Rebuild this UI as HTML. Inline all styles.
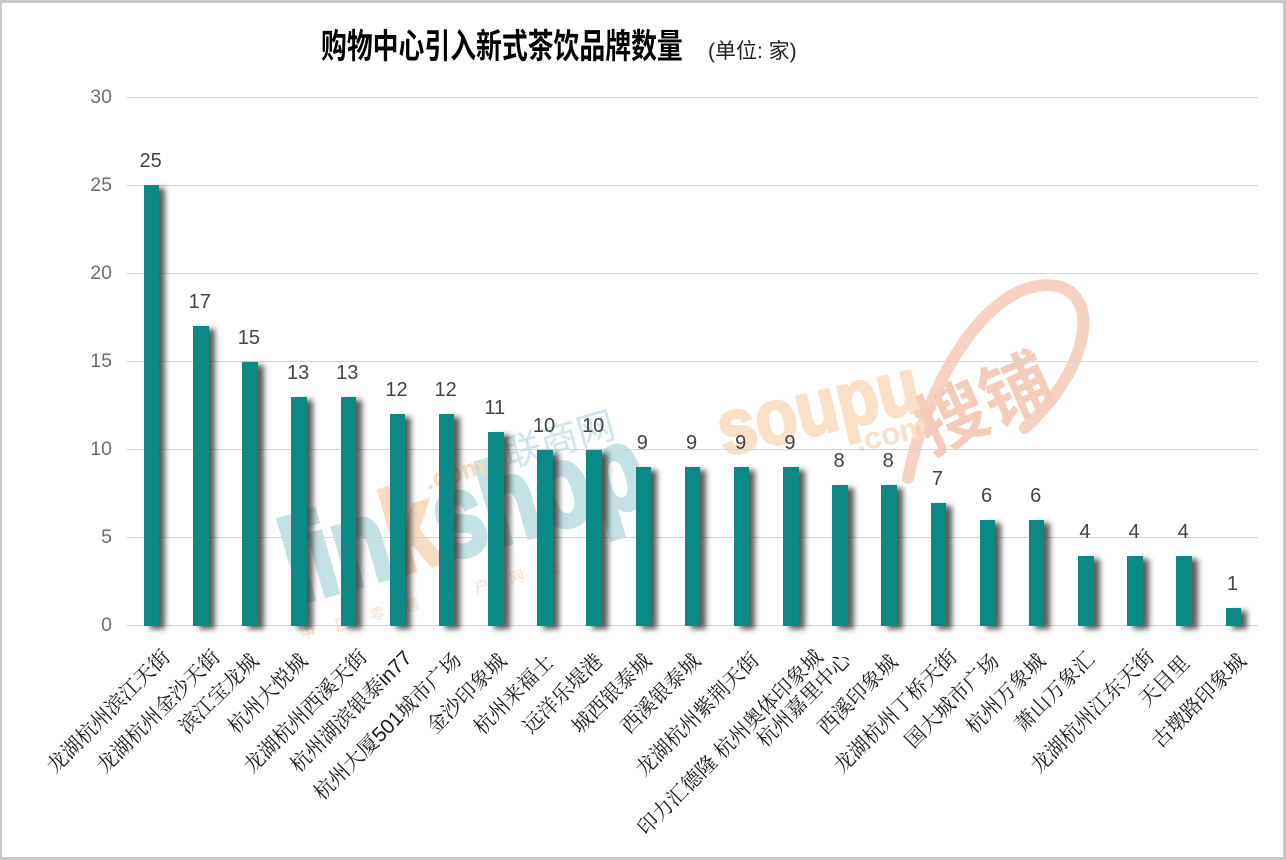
<!DOCTYPE html>
<html>
<head>
<meta charset="utf-8">
<style>
  html,body{margin:0;padding:0;background:#fff;}
  #c{position:relative;width:1286px;height:860px;overflow:hidden;background:#fff;font-family:"Liberation Sans","Noto Sans CJK SC",sans-serif;}
  .frame{position:absolute;left:0;top:0;width:1286px;height:860px;box-sizing:border-box;border-style:solid;border-color:#c6c6c6;border-width:3px 3px 3px 2px;z-index:10;pointer-events:none;}
  .grid{position:absolute;left:127px;width:1131px;height:1px;background:#d4d4d4;z-index:2;}
  .yt{position:absolute;right:1174px;width:40px;text-align:right;font-size:19.5px;line-height:20px;color:#6e6e6e;}
  .bar{position:absolute;width:15.6px;background:#0b8985;box-shadow:6px 3px 6px rgba(35,35,35,0.75);z-index:3;}
  .dl{position:absolute;width:40px;text-align:center;font-size:20px;line-height:20px;color:#444;z-index:4;}
  .xl{position:absolute;white-space:nowrap;font-family:"Liberation Sans","Noto Serif CJK SC",serif;font-size:20.5px;line-height:20px;color:#1a1a1a;transform-origin:100% 50%;transform:rotate(-45deg);}
  .title{position:absolute;left:321px;top:30px;font-size:34px;line-height:34px;font-weight:bold;color:#000;white-space:nowrap;transform-origin:0 50%;transform:scaleX(0.76);font-family:"Liberation Sans","Noto Sans CJK SC",sans-serif;}
  .sub{position:absolute;left:708px;top:41px;font-size:21px;line-height:21px;color:#222;white-space:nowrap;font-family:"Liberation Sans","Noto Sans CJK SC",sans-serif;}
  svg.wm{position:absolute;left:0;top:0;z-index:1;}
</style>
</head>
<body>
<div id="c">
  <svg class="wm" width="1286" height="860" viewBox="0 0 1286 860">
    <!-- linkshop watermark -->
    <text transform="translate(296,604) rotate(-16)" font-family="Liberation Sans, sans-serif" font-size="118" font-weight="bold" textLength="370" lengthAdjust="spacingAndGlyphs" fill="#c4e2e5" stroke="#c4e2e5" stroke-width="5"><tspan>lin</tspan><tspan fill="#f6dcc2" stroke="#f6dcc2">k</tspan><tspan>shop</tspan></text>
    <text transform="translate(428,490) rotate(-16)" font-family="Liberation Sans, sans-serif" font-size="26" font-weight="bold" fill="#f6dcc2">.com</text>
    <text transform="translate(508,468) rotate(-16)" font-family="Liberation Sans, Noto Sans CJK SC, sans-serif" font-size="38" fill="#cfe7e9">联商网</text>
    <text transform="translate(302,640) rotate(-15)" font-family="Liberation Sans, Noto Sans CJK SC, sans-serif" font-size="15" letter-spacing="21" fill="#f7e0cc">中国零售门户网站</text>
    <!-- soupu watermark -->
    <path d="M 908 478 C 928 380, 985 288, 1045 285 C 1100 283, 1098 360, 1025 428" fill="none" stroke="#f6d2c5" stroke-width="12" stroke-linecap="round"/>
    <text transform="translate(724,456) rotate(-13)" font-family="Liberation Sans, sans-serif" font-size="78" font-weight="bold" textLength="205" lengthAdjust="spacingAndGlyphs" fill="#f9e0c8" stroke="#f9e0c8" stroke-width="3">soupu</text>
    <text transform="translate(858,452) rotate(-13)" font-family="Liberation Sans, sans-serif" font-size="31" font-weight="bold" fill="#f9e0c8">.com</text>
    <text transform="translate(930,455) rotate(-24)" font-family="Liberation Sans, Noto Sans CJK SC, sans-serif" font-size="70" font-weight="bold" fill="#f5cbbb">搜铺</text>
  </svg>

  <div class="title">购物中心引入新式茶饮品牌数量</div>
  <div class="sub">(单位: 家)</div>

  <!-- gridlines -->
  <div class="grid" style="top:97px"></div>
  <div class="grid" style="top:185px"></div>
  <div class="grid" style="top:273px"></div>
  <div class="grid" style="top:361px"></div>
  <div class="grid" style="top:449px"></div>
  <div class="grid" style="top:537px"></div>
  <div class="grid" style="top:625px"></div>

  <!-- y ticks -->
  <div class="yt" style="top:87px">30</div>
  <div class="yt" style="top:175px">25</div>
  <div class="yt" style="top:263px">20</div>
  <div class="yt" style="top:351px">15</div>
  <div class="yt" style="top:439px">10</div>
  <div class="yt" style="top:527px">5</div>
  <div class="yt" style="top:615px">0</div>

  <!-- bars -->
  <div class="bar" style="left:143.8px;top:185.2px;height:440.8px"></div>
  <div class="bar" style="left:193.0px;top:326.3px;height:299.7px"></div>
  <div class="bar" style="left:242.1px;top:361.5px;height:264.5px"></div>
  <div class="bar" style="left:291.3px;top:396.8px;height:229.2px"></div>
  <div class="bar" style="left:340.5px;top:396.8px;height:229.2px"></div>
  <div class="bar" style="left:389.7px;top:414.4px;height:211.6px"></div>
  <div class="bar" style="left:438.8px;top:414.4px;height:211.6px"></div>
  <div class="bar" style="left:488.0px;top:432.1px;height:193.9px"></div>
  <div class="bar" style="left:537.2px;top:449.7px;height:176.3px"></div>
  <div class="bar" style="left:586.4px;top:449.7px;height:176.3px"></div>
  <div class="bar" style="left:635.5px;top:467.3px;height:158.7px"></div>
  <div class="bar" style="left:684.7px;top:467.3px;height:158.7px"></div>
  <div class="bar" style="left:733.9px;top:467.3px;height:158.7px"></div>
  <div class="bar" style="left:783.1px;top:467.3px;height:158.7px"></div>
  <div class="bar" style="left:832.2px;top:485.0px;height:141.0px"></div>
  <div class="bar" style="left:881.4px;top:485.0px;height:141.0px"></div>
  <div class="bar" style="left:930.6px;top:502.6px;height:123.4px"></div>
  <div class="bar" style="left:979.7px;top:520.2px;height:105.8px"></div>
  <div class="bar" style="left:1028.9px;top:520.2px;height:105.8px"></div>
  <div class="bar" style="left:1078.1px;top:555.5px;height:70.5px"></div>
  <div class="bar" style="left:1127.3px;top:555.5px;height:70.5px"></div>
  <div class="bar" style="left:1176.4px;top:555.5px;height:70.5px"></div>
  <div class="bar" style="left:1225.6px;top:608.4px;height:17.6px"></div>

  <!-- data labels -->
  <div class="dl" style="left:130.6px;top:151.2px">25</div>
  <div class="dl" style="left:179.8px;top:292.3px">17</div>
  <div class="dl" style="left:228.9px;top:327.5px">15</div>
  <div class="dl" style="left:278.1px;top:362.8px">13</div>
  <div class="dl" style="left:327.3px;top:362.8px">13</div>
  <div class="dl" style="left:376.5px;top:380.4px">12</div>
  <div class="dl" style="left:425.6px;top:380.4px">12</div>
  <div class="dl" style="left:474.8px;top:398.1px">11</div>
  <div class="dl" style="left:524.0px;top:415.7px">10</div>
  <div class="dl" style="left:573.2px;top:415.7px">10</div>
  <div class="dl" style="left:622.3px;top:433.3px">9</div>
  <div class="dl" style="left:671.5px;top:433.3px">9</div>
  <div class="dl" style="left:720.7px;top:433.3px">9</div>
  <div class="dl" style="left:769.9px;top:433.3px">9</div>
  <div class="dl" style="left:819.0px;top:451.0px">8</div>
  <div class="dl" style="left:868.2px;top:451.0px">8</div>
  <div class="dl" style="left:917.4px;top:468.6px">7</div>
  <div class="dl" style="left:966.5px;top:486.2px">6</div>
  <div class="dl" style="left:1015.7px;top:486.2px">6</div>
  <div class="dl" style="left:1064.9px;top:521.5px">4</div>
  <div class="dl" style="left:1114.1px;top:521.5px">4</div>
  <div class="dl" style="left:1163.2px;top:521.5px">4</div>
  <div class="dl" style="left:1212.4px;top:574.4px">1</div>

  <!-- x labels -->
  <div class="xl" style="right:1119px;top:644px">龙湖杭州滨江天街</div>
  <div class="xl" style="right:1069px;top:644px">龙湖杭州金沙天街</div>
  <div class="xl" style="right:1031px;top:648px">滨江宝龙城</div>
  <div class="xl" style="right:982px;top:648px">杭州大悦城</div>
  <div class="xl" style="right:922px;top:644px">龙湖杭州西溪天街</div>
  <div class="xl" style="right:877px;top:645px">杭州湖滨银泰in77</div>
  <div class="xl" style="right:828px;top:647px">杭州大厦501城市广场</div>
  <div class="xl" style="right:783px;top:648px">金沙印象城</div>
  <div class="xl" style="right:736px;top:649px">杭州来福士</div>
  <div class="xl" style="right:687px;top:648px">远洋乐堤港</div>
  <div class="xl" style="right:638px;top:648px">城西银泰城</div>
  <div class="xl" style="right:588.5px;top:648px">西溪银泰城</div>
  <div class="xl" style="right:530px;top:647px">龙湖杭州紫荆天街</div>
  <div class="xl" style="right:466px;top:644px">印力汇德隆 杭州奥体印象城</div>
  <div class="xl" style="right:438px;top:647px">杭州嘉里中心</div>
  <div class="xl" style="right:392px;top:649px">西溪印象城</div>
  <div class="xl" style="right:332px;top:644px">龙湖杭州丁桥天街</div>
  <div class="xl" style="right:290px;top:648px">国大城市广场</div>
  <div class="xl" style="right:244px;top:648px">杭州万象城</div>
  <div class="xl" style="right:195px;top:646px">萧山万象汇</div>
  <div class="xl" style="right:135px;top:644px">龙湖杭州江东天街</div>
  <div class="xl" style="right:100px;top:650px">天目里</div>
  <div class="xl" style="right:43px;top:648px">古墩路印象城</div>

  <div class="frame"></div>
</div>
</body>
</html>
